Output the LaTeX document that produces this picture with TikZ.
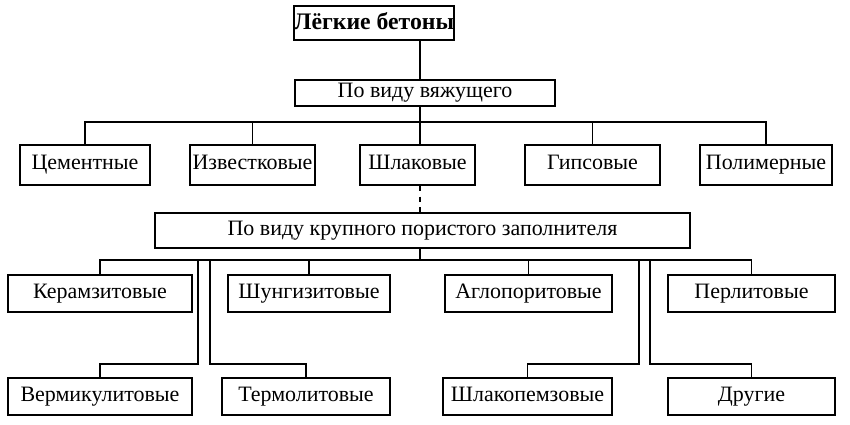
\documentclass[tikz,border=0pt]{standalone}
\usepackage{fontspec}
\setmainfont{Liberation Serif}
\begin{document}
\begin{tikzpicture}[x=0.02cm,y=-0.02cm,
  box/.style={draw,line width=1.1pt,rectangle,inner sep=0pt,text height=8pt,text depth=2.5pt,font=\fontsize{12.5}{14}\selectfont},
  conn/.style={line width=0.7pt}]
\useasboundingbox (0,0) rectangle (850,425);
\newcommand{\bx}[6]{\node[box,minimum width={(#4-#2)*0.02cm},minimum height={(#5-#3)*0.02cm}] (#1) at ({(#2+#4)/2},{(#3+#5)/2}) {#6};}
\node[box,font=\fontsize{13.5}{15}\selectfont\bfseries,text height=9pt,text depth=2pt,minimum width=150*0.02cm,minimum height=34*0.02cm] (top) at (374,23) {Лёгкие бетоны};
\bx{b1}{295}{80}{555}{106}{По виду вяжущего}
\bx{c1}{20}{145}{150}{185}{Цементные}
\bx{c2}{190}{145}{315}{185}{Известковые}
\bx{c3}{360}{145}{475}{185}{Шлаковые}
\bx{c4}{525}{145}{660}{185}{Гипсовые}
\bx{c5}{700}{145}{832}{185}{Полимерные}
\bx{b2}{155}{213}{690}{248}{По виду крупного пористого заполнителя}
\bx{d1}{8}{275}{192}{312}{Керамзитовые}
\bx{d2}{228}{275}{390}{312}{Шунгизитовые}
\bx{d3}{445}{275}{612}{312}{Аглопоритовые}
\bx{d4}{668}{275}{835}{312}{Перлитовые}
\bx{e1}{8}{378}{192}{415}{Вермикулитовые}
\bx{e2}{222}{378}{390}{415}{Термолитовые}
\bx{e3}{443}{378}{612}{415}{Шлакопемзовые}
\bx{e4}{668}{378}{835}{415}{Другие}
\coordinate (bus1) at (420,122);
\coordinate (bus2) at (420,260);
\draw[conn] (top.south -| bus1) -- (b1.north -| bus1);
\draw[conn] (b1.south -| bus1) -- (bus1);
\draw[conn] (c1.north) |- (bus1) -| (c5.north);
\draw[conn] (c2.north) |- (bus1);
\draw[conn] (c4.north) |- (bus1);
\draw[conn] (bus1) -- (c3.north -| bus1);
\draw[conn,dashed] (c3.south -| bus1) -- (b2.north -| bus1);
\draw[conn] (b2.south -| bus2) -- (bus2);
\draw[conn] (d1.north) |- (bus2) -| (d4.north);
\draw[conn] (d2.north) |- (bus2);
\draw[conn] (d3.north) |- (bus2);
\draw[conn] (198,260) -- (198,364) -| (e1.north);
\draw[conn] (210,260) -- (210,364) -| (e2.north);
\draw[conn] (639,260) -- (639,364) -| (e3.north);
\draw[conn] (650,260) -- (650,364) -| (e4.north);
\end{tikzpicture}
\end{document}
